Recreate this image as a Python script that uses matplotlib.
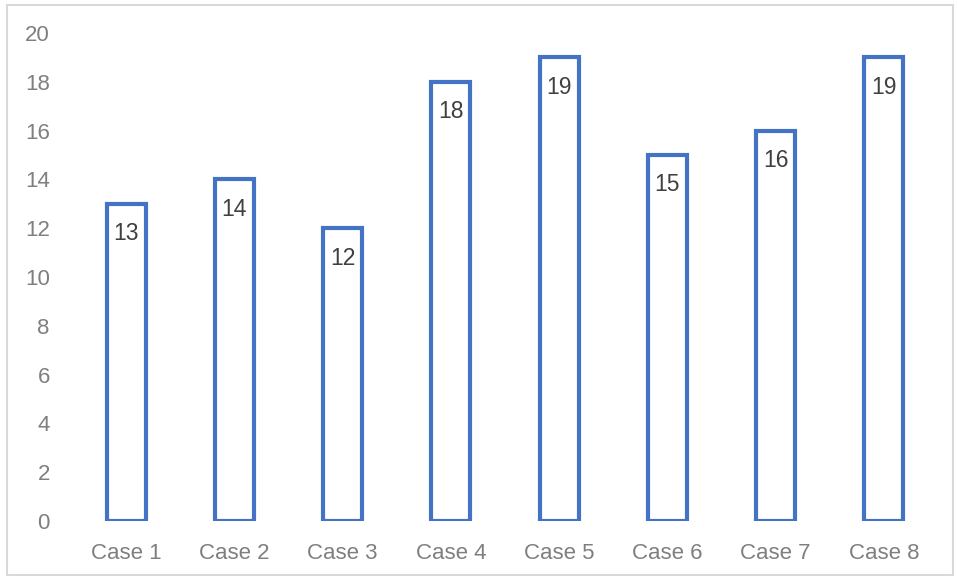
import matplotlib.pyplot as plt
from matplotlib.patches import Rectangle

cases = ["Case 1", "Case 2", "Case 3", "Case 4", "Case 5", "Case 6", "Case 7", "Case 8"]
values = [13, 14, 12, 18, 19, 15, 16, 19]

blue = "#4472C4"
grey = "#7F7F7F"

plt.rcParams["font.family"] = ["Liberation Sans", "DejaVu Sans"]

fig = plt.figure(figsize=(9.57, 5.78), dpi=100)
ax = fig.add_axes([72 / 957, 1 - 521 / 578, (938 - 72) / 957, (521 - 33) / 578])

bars = ax.bar(range(len(cases)), values, width=0.36, facecolor="white",
              edgecolor=blue, linewidth=3)

for i, v in enumerate(values):
    ax.annotate(str(v), (i, v), xytext=(0, -21.5), textcoords="offset points",
                ha="center", va="center", fontsize=16.5, color="#404040")

ax.set_xlim(-0.5, len(cases) - 0.5)
ax.set_ylim(0, 20)
ax.set_yticks(range(0, 21, 2))
ax.set_xticks(range(len(cases)))
ax.set_xticklabels(cases)
ax.tick_params(axis="both", length=0, labelsize=16, labelcolor=grey)
ax.tick_params(axis="y", pad=16)
ax.tick_params(axis="x", pad=15.5)
for s in ax.spines.values():
    s.set_visible(False)

# light frame round the whole chart
fig.patches.append(Rectangle((7 / 957, 3 / 578), 946 / 957, 570 / 578,
                             transform=fig.transFigure, fill=False,
                             edgecolor="#D9D9D9", linewidth=1.5))

fig.savefig("out.png", dpi=100)
